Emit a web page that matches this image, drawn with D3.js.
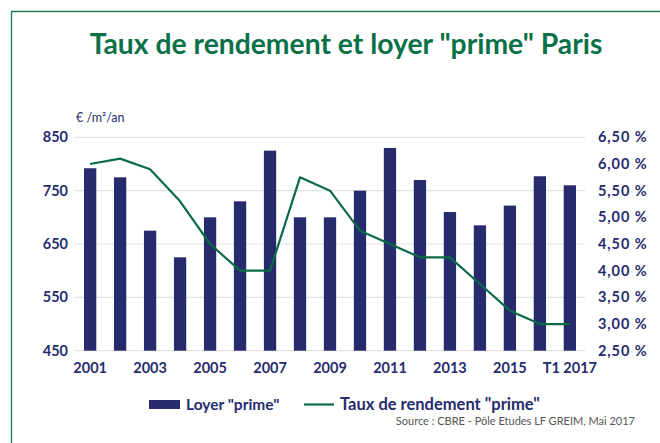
<!DOCTYPE html>
<html>
<head>
<meta charset="utf-8">
<script src="https://cdn.jsdelivr.net/npm/d3@7"></script>
<style>
  body { margin:0; background:#fff; }
  svg { display:block; font-family: Lato, "Open Sans", sans-serif; }
</style>
</head>
<body>
<div id="chart"></div>
<script>
// donnees
var categories = ["2001","2002","2003","2004","2005","2006","2007","2008","2009","2010","2011","2012","2013","2014","2015","2016","T1 2017"];
var loyer = [792,775,675,625,700,730,825,700,700,750,830,770,710,685,722,777,760];
var taux  = [6.00,6.10,5.90,5.30,4.50,4.00,4.00,5.75,5.50,4.75,4.50,4.25,4.25,3.75,3.25,3.00,3.00];
var loyerTicks = [450,550,650,750,850];
var tauxTicks = [2.5,3,3.5,4,4.5,5,5.5,6,6.5];
var xLabels = ["2001","2003","2005","2007","2009","2011","2013","2015","T1 2017"];

var W=660, H=443;
var navy="#262b6e", green="#0b6b45";
var pLeft=75, pRight=585, pTop=137.3, pBottom=350.7;

var svg=d3.select("#chart").append("svg").attr("width",W).attr("height",H);

// cadre vert
svg.append("path").attr("d","M11.5,"+H+"V11.5H"+W)
  .attr("fill","none").attr("stroke","#1d7a4e").attr("stroke-width",1.3);

svg.append("text").attr("x",346).attr("y",54).attr("text-anchor","middle")
  .attr("fill","#0a7048").style("font-size","28.3px").style("font-weight","bold")
  .text('Taux de rendement et loyer "prime" Paris');

var x=d3.scaleBand().domain(categories).range([pLeft,pRight]).paddingInner(0.59).paddingOuter(0.3);
var y=d3.scaleLinear().domain([450,850]).range([pBottom,pTop]);
var y2=d3.scaleLinear().domain([2.5,6.5]).range([pBottom,pTop]);

// grille
svg.append("g").selectAll("line").data(loyerTicks).enter().append("line")
  .attr("x1",pLeft).attr("x2",pRight)
  .attr("y1",function(d){return y(d);}).attr("y2",function(d){return y(d);})
  .attr("stroke","#e2e2e2").attr("stroke-width",1.2);

svg.append("g").selectAll("rect").data(loyer).enter().append("rect")
  .attr("x",function(d,i){return x(categories[i]);})
  .attr("width",x.bandwidth())
  .attr("y",function(d){return y(d);})
  .attr("height",function(d){return pBottom-y(d);})
  .attr("fill",navy);

var line=d3.line().x(function(d,i){return x(categories[i])+x.bandwidth()/2;}).y(function(d){return y2(d);});
svg.append("path").datum(taux).attr("d",line)
  .attr("fill","none").attr("stroke",green).attr("stroke-width",2.2).attr("stroke-linejoin","round");

// axes
var ax=svg.append("g").attr("transform","translate(68,0)")
  .call(d3.axisLeft(y).tickValues(loyerTicks).tickSize(0).tickPadding(0));
var ax2=svg.append("g").attr("transform","translate(598,0)")
  .call(d3.axisRight(y2).tickValues(tauxTicks).tickSize(0).tickPadding(0)
    .tickFormat(function(d){return d.toFixed(2).replace(".",",")+" %";}));
var ax3=svg.append("g").attr("transform","translate(0,"+(pBottom+9)+")")
  .call(d3.axisBottom(x).tickValues(xLabels).tickSize(0).tickPadding(0));
[ax,ax2,ax3].forEach(function(a){
  a.select(".domain").remove();
  a.selectAll("text").attr("fill",navy).style("font-size","14.5px").style("font-weight","bold").style("font-family","Lato, sans-serif");
});
ax2.selectAll("text").style("letter-spacing","0.9px");
ax3.selectAll("text").attr("dy","0.9em");

svg.append("text").attr("x",76).attr("y",122).attr("fill",navy)
  .style("font-size","12.5px").text("€ /m²/an");

// legende
svg.append("rect").attr("x",149).attr("y",400).attr("width",31).attr("height",9).attr("fill",navy);
svg.append("text").attr("x",186).attr("y",410).attr("fill",navy)
  .style("font-size","15.5px").style("font-weight","bold").text('Loyer "prime"');
svg.append("line").attr("x1",304).attr("x2",334).attr("y1",404.5).attr("y2",404.5)
  .attr("stroke",green).attr("stroke-width",2.2);
svg.append("text").attr("x",340).attr("y",410).attr("fill",navy)
  .style("font-size","16.5px").style("font-weight","bold").text('Taux de rendement "prime"');

svg.append("text").attr("x",635).attr("y",425).attr("text-anchor","end").attr("fill","#555")
  .style("font-size","11px").text("Source : CBRE - Pôle Etudes LF GREIM, Mai 2017");
</script>
</body>
</html>
